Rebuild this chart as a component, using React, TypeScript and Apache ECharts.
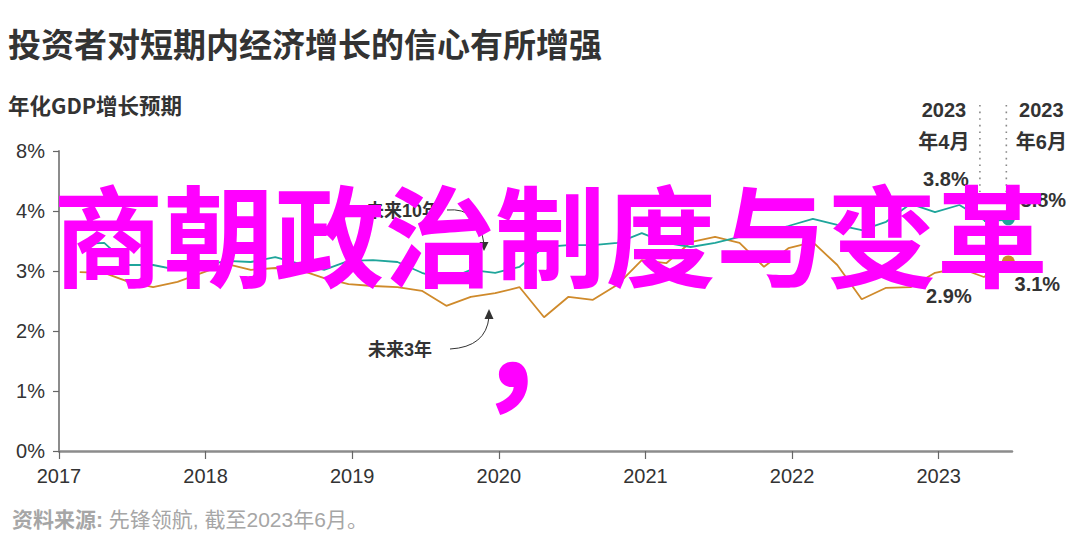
import React, { useEffect, useRef } from "react";
import * as echarts from "echarts";

const dates = [
  "2017-02", "2017-04", "2017-06", "2017-08", "2017-10", "2017-12",
  "2018-02", "2018-04", "2018-06", "2018-08", "2018-10", "2018-12",
  "2019-02", "2019-04", "2019-06", "2019-08", "2019-10", "2019-12",
  "2020-02", "2020-04", "2020-06", "2020-08", "2020-10", "2020-12",
  "2021-02", "2021-04", "2021-06", "2021-08", "2021-10", "2021-12",
  "2022-02", "2022-04", "2022-06", "2022-08", "2022-10", "2022-12",
  "2023-02", "2023-04", "2023-06",
];

// 未来10年
const tenYear = [
  3.45, 3.47, 3.1, 3.1, 3.02, 3.08,
  3.17, 3.15, 3.23, 3.12, 3.02, 3.17,
  3.18, 3.15, 2.97, 2.85, 3.02, 2.97,
  3.07, 3.4, 3.43, 3.43, 3.47, 3.63,
  3.47, 3.4, 3.47, 3.57, 3.65, 3.75,
  3.87, 3.77, 3.68, 3.82, 4.12, 3.98,
  4.1, 3.85, 3.87,
];

// 未来3年
const threeYear = [
  2.98, 2.97, 2.82, 2.73, 2.82, 2.97,
  3.12, 3.02, 3.05, 3.02, 2.88, 2.78,
  2.75, 2.73, 2.67, 2.42, 2.57, 2.63,
  2.73, 2.23, 2.57, 2.52, 2.77, 3.18,
  3.13, 3.48, 3.57, 3.47, 3.07, 3.38,
  3.48, 3.1, 2.53, 2.72, 2.73, 2.97,
  3.05, 2.9, 3.15,
];

const yTickLabels = ["0%", "1%", "2%", "3%", "4%", "8%"];
const xYears = [2017, 2018, 2019, 2020, 2021, 2022, 2023];
const endLabelsTen = ["3.8%", "3.8%"];
const endLabelsThree = ["2.9%", "3.1%"];
const markerDates = ["2023\n年4月", "2023\n年6月"];

const TEAL = "#1fa59b";
const GOLD = "#cf8a2b";
const DARK = "#333333";
const LATIN = "'Liberation Sans', Arial, 'Noto Sans CJK SC', sans-serif";
const CJK = "'Liberation Sans', 'Noto Sans CJK SC', sans-serif";

const toYear = (d: string) => {
  const [y, m] = d.split("-").map(Number);
  return y + (m - 0.3) / 12;
};

export default function App() {
  const ref = useRef<HTMLDivElement>(null);

  useEffect(() => {
    document.body.style.margin = "0";
    const chart = echarts.init(ref.current as HTMLDivElement, null, { renderer: "svg" });
    const tenData = dates.map((d, i) => [toYear(d), tenYear[i]]);
    const threeData = dates.map((d, i) => [toYear(d), threeYear[i]]);
    const last = dates.length - 1;
    const dotSize = (_v: any, p: any) => (p.dataIndex === last ? 13 : 0);

    chart.setOption({
      animation: false,
      backgroundColor: "#ffffff",
      grid: { left: 59, right: 68, top: 151, bottom: 105, containLabel: false },
      xAxis: {
        type: "value",
        min: 2017,
        max: 2023.5,
        interval: 1,
        splitLine: { show: false },
        axisLine: { show: true, lineStyle: { color: "#8c8c8c", width: 2.5 } },
        axisTick: { show: true, length: 8, lineStyle: { color: "#666", width: 1.2 }, customValues: xYears },
        axisLabel: {
          customValues: xYears,
          formatter: (v: number) => String(Math.round(v)),
          color: DARK,
          fontSize: 20,
          fontFamily: LATIN,
          margin: 15,
        },
      },
      yAxis: {
        type: "value",
        min: 0,
        max: 5,
        interval: 1,
        splitLine: { show: false },
        axisLine: { show: true, lineStyle: { color: "#8c8c8c", width: 2 } },
        axisTick: { show: true, length: 6, lineStyle: { color: "#666", width: 1.2 } },
        axisLabel: {
          formatter: (v: number) => yTickLabels[Math.round(v)] ?? "",
          color: DARK,
          fontSize: 20,
          fontFamily: LATIN,
          margin: 14,
        },
      },
      series: [
        {
          name: "未来10年",
          type: "line",
          data: tenData,
          symbol: "circle",
          symbolSize: dotSize,
          showSymbol: true,
          itemStyle: { color: TEAL },
          lineStyle: { color: TEAL, width: 1.8 },
          z: 3,
        },
        {
          name: "未来10年末段",
          type: "line",
          data: tenData.slice(last - 1),
          symbol: "none",
          lineStyle: { color: TEAL, width: 4 },
          z: 3,
        },
        {
          name: "未来3年",
          type: "line",
          data: threeData,
          symbol: "circle",
          symbolSize: dotSize,
          showSymbol: true,
          itemStyle: { color: GOLD },
          lineStyle: { color: GOLD, width: 1.8 },
          z: 2,
        },
      ],
    });

    const px = (s: number, p: number[]) => chart.convertToPixel({ seriesIndex: s }, p) as number[];
    const tA = px(0, tenData[last - 1]);
    const tJ = px(0, tenData[last]);
    const gA = px(2, threeData[last - 1]);
    const gJ = px(2, threeData[last]);
    const topY = 105;
    const boldText = (text: string, x: number, y: number, size = 20, align = "center") => ({
      type: "text",
      x,
      y,
      z: 50,
      style: { text, fill: DARK, fontSize: size, fontWeight: "bold", fontFamily: CJK, align, verticalAlign: "middle", lineHeight: 32 },
    });

    chart.setOption({
      graphic: [
        {
          type: "text", x: 8, y: 43, z: 50,
          style: { text: "投资者对短期内经济增长的信心有所增强", fill: DARK, fontSize: 33, fontWeight: "bold", fontFamily: "'Noto Sans CJK SC', sans-serif", align: "left", verticalAlign: "middle" },
        },
        {
          type: "text", x: 8, y: 104, z: 50,
          style: { text: "年化GDP增长预期", fill: DARK, fontSize: 21.5, fontWeight: "bold", fontFamily: "'Noto Sans CJK SC', sans-serif", align: "left", verticalAlign: "middle" },
        },
        {
          type: "text", x: 12, y: 519, z: 50,
          style: {
            text: "{b|资料来源:} 先锋领航, 截至2023年6月。",
            fill: "#a6a6a6", fontSize: 21, fontFamily: CJK, align: "left", verticalAlign: "middle",
            rich: { b: { fontWeight: "bold", fill: "#a6a6a6", fontSize: 21, fontFamily: CJK } },
          },
        },
        // dotted date markers
        { type: "line", z: 40, shape: { x1: tA[0] - 4, y1: topY, x2: tA[0] - 4, y2: 192 }, style: { stroke: "#888", lineWidth: 1.6, lineDash: [1.6, 5] } },
        { type: "line", z: 40, shape: { x1: tJ[0] - 2, y1: topY, x2: tJ[0] - 2, y2: 192 }, style: { stroke: "#888", lineWidth: 1.6, lineDash: [1.6, 5] } },
        boldText(markerDates[0], tA[0] - 40, 126),
        boldText(markerDates[1], tJ[0] + 33, 126),
        // value labels
        boldText(endLabelsTen[0], tA[0] - 38, 179),
        boldText(endLabelsTen[1], tJ[0] + 35, 200),
        boldText(endLabelsThree[0], gA[0] - 35, 296),
        boldText(endLabelsThree[1], gJ[0] + 29, 284),
        { type: "line", z: 40, shape: { x1: tA[0] - 18, y1: 195, x2: tA[0] - 4, y2: tA[1] - 1 }, style: { stroke: "#333", lineWidth: 1 } },
        // series annotations
        boldText("未来10年", 403, 211, 18),
        { type: "bezierCurve", z: 40, shape: { x1: 447, y1: 210, cpx1: 479, cpy1: 207, x2: 484, y2: 244 }, style: { stroke: "#333", lineWidth: 1, fill: "none" } },
        { type: "polygon", z: 40, shape: { points: [[479.5, 242], [488.5, 242], [484, 251]] }, style: { fill: "#333" } },
        boldText("未来3年", 400, 350, 18),
        { type: "bezierCurve", z: 40, shape: { x1: 450, y1: 349, cpx1: 486, cpy1: 347, x2: 489, y2: 317 }, style: { stroke: "#333", lineWidth: 1, fill: "none" } },
        { type: "polygon", z: 40, shape: { points: [[484.5, 319], [493.5, 319], [489, 309]] }, style: { fill: "#333" } },
        // overlay text
        {
          type: "text", x: 53, y: 231, z: 100,
          style: { text: "商朝政治制度与变革", fill: "#ff00ff", fontSize: 110.5, fontWeight: "bold", fontFamily: "'Noto Sans CJK SC', sans-serif", align: "left", verticalAlign: "middle" },
        },
        {
          type: "text", x: 543, y: 334, z: 100,
          style: { text: "，", fill: "#ff00ff", fontSize: 140, fontWeight: "bold", fontFamily: "'Noto Sans CJK SC', sans-serif", align: "center", verticalAlign: "middle" },
        },
      ],
    });

    return () => chart.dispose();
  }, []);

  return <div ref={ref} style={{ position: "absolute", left: 0, top: 0, width: 1080, height: 556 }} />;
}
